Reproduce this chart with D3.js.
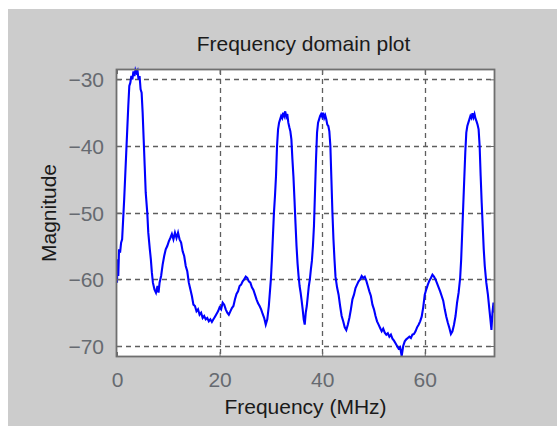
<!DOCTYPE html>
<html>
<head>
<meta charset="utf-8">
<script src="https://cdn.jsdelivr.net/npm/d3@7"></script>
<style>
  html, body { margin: 0; padding: 0; background: #ffffff; }
  svg { display: block; }
  text { font-family: "Liberation Sans", Arial, sans-serif; }
</style>
</head>
<body>
<script>
// ---- data ----
const freq = [0.0,0.1,0.25,0.4,0.6,0.8,1.0,1.2,1.4,1.6,1.8,2.0,2.2,2.4,2.6,2.8,3.0,3.2,3.4,3.6,3.8,4.0,4.2,4.4,4.6,4.8,5.0,5.2,5.4,5.6,5.9,6.1,6.4,6.6,6.8,7.0,7.3,7.6,7.9,8.1,8.3,8.6,8.9,9.2,9.5,9.8,10.1,10.4,10.7,11.0,11.3,11.6,11.9,12.2,12.5,12.8,13.1,13.4,13.7,14.0,14.3,14.6,14.9,15.2,15.5,15.8,16.1,16.4,16.7,17.0,17.3,17.6,17.9,18.2,18.5,18.8,19.1,19.4,19.7,20.0,20.3,20.6,20.9,21.2,21.5,21.8,22.1,22.4,22.7,23.0,23.3,23.6,23.9,24.2,24.5,24.8,25.1,25.4,25.7,26.0,26.3,26.6,26.9,27.2,27.5,27.8,28.1,28.4,28.7,29.0,29.3,29.6,29.8,30.0,30.2,30.4,30.6,30.8,31.0,31.2,31.4,31.6,31.8,32.0,32.2,32.4,32.6,32.8,33.0,33.2,33.4,33.6,33.8,34.0,34.2,34.4,34.6,34.8,35.0,35.2,35.4,35.6,35.8,36.0,36.2,36.4,36.6,36.8,37.0,37.2,37.4,37.6,37.8,38.0,38.2,38.4,38.6,38.8,39.0,39.2,39.4,39.6,39.8,40.0,40.2,40.4,40.6,40.8,41.0,41.2,41.4,41.6,41.8,42.0,42.2,42.4,42.6,42.9,43.2,43.5,43.8,44.1,44.4,44.7,45.0,45.3,45.6,45.9,46.2,46.5,46.8,47.1,47.4,47.7,48.0,48.3,48.6,48.9,49.2,49.5,49.8,50.1,50.4,50.7,51.0,51.3,51.6,51.9,52.2,52.5,52.8,53.1,53.4,53.7,54.0,54.3,54.6,54.9,55.2,55.5,55.8,56.1,56.4,56.7,57.0,57.3,57.6,57.9,58.2,58.5,58.8,59.1,59.4,59.7,60.0,60.3,60.6,60.9,61.2,61.5,61.8,62.1,62.4,62.7,63.0,63.3,63.6,63.9,64.2,64.5,64.8,65.1,65.4,65.7,66.0,66.3,66.6,66.9,67.1,67.3,67.5,67.7,67.9,68.1,68.3,68.5,68.7,68.9,69.1,69.3,69.5,69.7,69.9,70.1,70.3,70.5,70.7,70.9,71.1,71.3,71.5,71.7,72.0,72.3,72.6,72.8,73.0,73.2,73.4,73.5];
const magnitude = [-60.5,-57,-59.5,-55.5,-56,-54.5,-54,-51,-48,-44.5,-41,-37.5,-34,-31,-30.5,-29.5,-30,-28.8,-29.5,-28.6,-29,-28.7,-30,-29.5,-31.5,-32,-35,-39,-43,-47,-50,-53,-55.5,-57,-59,-60.5,-61.5,-62,-61,-62,-60.5,-59.5,-57.8,-56.5,-55.5,-55,-54.3,-53.8,-53.2,-54,-53,-53.8,-53,-54,-54.5,-55.8,-56.5,-58,-58.8,-60.5,-61.5,-62.5,-63.8,-64,-64.8,-64.5,-65.3,-65,-65.8,-65.5,-66,-65.8,-66.3,-66,-66.4,-66,-65.6,-65.2,-64.8,-64.2,-64.5,-63.5,-63.8,-64.5,-65,-65.3,-64.8,-64.3,-64,-63,-62.2,-61.8,-61,-60.8,-60.3,-60,-59.6,-59.8,-60.3,-60.5,-61.2,-61.6,-62.3,-63,-63.6,-64,-64.5,-65.2,-65.8,-66.8,-66,-64,-62,-60,-57,-53.5,-50,-47.5,-44.5,-40,-37.5,-36.5,-36,-35.5,-35.8,-35,-35.5,-34.8,-35.6,-35.2,-36.5,-37.2,-37.8,-39,-42,-44.6,-48,-51.6,-55,-57.6,-59.5,-61,-62,-63.2,-64.5,-66,-66.8,-65,-64,-62.5,-61,-60,-58.5,-57.2,-55,-52,-47,-42,-38,-36.5,-36,-35.5,-35.2,-35.6,-35,-35.8,-35.4,-36,-36.8,-37,-37.8,-40,-45,-50,-54,-57,-59.6,-61.2,-62.3,-64,-65.5,-66.3,-67.2,-67.6,-66.8,-65.8,-64.5,-63,-62.3,-61.3,-60.8,-60.3,-60,-59.5,-59.8,-59.6,-60.2,-61,-61.8,-62.5,-63.8,-64.5,-65.5,-66.3,-66.8,-67.3,-67.8,-67.4,-68,-68.3,-68.1,-68.6,-68.3,-68.9,-69.2,-69.6,-70,-70.4,-70.2,-71.5,-70,-69.3,-69,-68.8,-68.6,-68.8,-68.3,-68.2,-67.8,-67.2,-66.8,-66.3,-65.6,-64.2,-62.3,-61.5,-60.8,-60.2,-59.8,-59.3,-59.6,-60,-60.6,-61.2,-61.8,-62.5,-63.2,-64.5,-65.6,-66.5,-67.3,-68.2,-67.8,-66.8,-65.5,-63.5,-62,-59.8,-57,-53,-49,-45,-41,-38,-37,-36.5,-36,-35.5,-35.8,-35.1,-35.7,-35.2,-35.9,-36.3,-36.8,-37.5,-40,-44.5,-48.5,-52,-55.5,-58,-60.5,-62.2,-64.5,-66,-67.6,-65,-63.5,-65];
const xTicks = [0, 20, 40, 60];
const yTicks = [-70, -60, -50, -40, -30];
const titleText = "Frequency domain plot";
const xLabelText = "Frequency (MHz)";
const yLabelText = "Magnitude";

// ---- layout ----
const W = 557, H = 426;
const m = { left: 117, top: 70, right: 63, bottom: 70 };
const pw = W - m.left - m.right;   // 377
const ph = H - m.top - m.bottom;   // 286

const svg = d3.select("body").append("svg")
  .attr("width", W).attr("height", H);

// figure background with thin white border at left/top
svg.append("rect").attr("x", 0).attr("y", 0).attr("width", W).attr("height", H).attr("fill", "#ffffff");
svg.append("rect").attr("x", 8).attr("y", 9).attr("width", W - 8).attr("height", H - 9).attr("fill", "#cccccc");

const x = d3.scaleLinear().domain([0, 73.5]).range([m.left, m.left + pw]);
const y = d3.scaleLinear().domain([-71.5, -28.6]).range([m.top + ph, m.top]);

// plot area
svg.append("rect").attr("x", m.left).attr("y", m.top).attr("width", pw).attr("height", ph).attr("fill", "#ffffff");

// grid
const grid = svg.append("g").attr("stroke", "#5e5e5e").attr("stroke-width", 1.3).attr("stroke-dasharray", "5,4");
grid.selectAll("line.gx").data(xTicks.filter(d => d > 0)).join("line")
  .attr("x1", d => Math.round(x(d)) + 0.5).attr("x2", d => Math.round(x(d)) + 0.5)
  .attr("y1", m.top).attr("y2", m.top + ph);
grid.selectAll("line.gy").data(yTicks).join("line")
  .attr("y1", d => Math.round(y(d)) + 0.5).attr("y2", d => Math.round(y(d)) + 0.5)
  .attr("x1", m.left).attr("x2", m.left + pw);

// data line
const line = d3.line().x((d, i) => x(freq[i])).y(d => y(d));
svg.append("path").datum(magnitude)
  .attr("d", line)
  .attr("fill", "none").attr("stroke", "#0000ff").attr("stroke-width", 2.1)
  .attr("stroke-linejoin", "miter");

// axes (inward ticks, no domain; box drawn separately)
const tickColor = "#6a6a6a";
const xAxis = d3.axisBottom(x).tickValues(xTicks).tickSize(-4).tickPadding(16).tickFormat(d3.format("d"));
const yAxis = d3.axisLeft(y).tickValues(yTicks).tickSize(-4).tickPadding(13).tickFormat(d3.format("d"));
const gx = svg.append("g").attr("transform", `translate(0,${m.top + ph})`).call(xAxis);
const gy = svg.append("g").attr("transform", `translate(${m.left},0)`).call(yAxis);
[gx, gy].forEach(g => {
  g.select(".domain").remove();
  g.selectAll(".tick line").attr("stroke", tickColor);
  g.selectAll(".tick text").attr("fill", "#666a70").attr("font-size", 21)
    .attr("font-family", "'Liberation Sans', Arial, sans-serif");
});
gy.selectAll(".tick text").attr("dy", "0.35em");
// top and right ticks
svg.append("g").call(d3.axisTop(x).tickValues(xTicks).tickSize(-4).tickFormat(""))
  .attr("transform", `translate(0,${m.top})`)
  .call(g => { g.select(".domain").remove(); g.selectAll(".tick line").attr("stroke", tickColor); });
svg.append("g").call(d3.axisRight(y).tickValues(yTicks).tickSize(-4).tickFormat(""))
  .attr("transform", `translate(${m.left + pw},0)`)
  .call(g => { g.select(".domain").remove(); g.selectAll(".tick line").attr("stroke", tickColor); });

// box
svg.append("rect").attr("x", m.left - 0.5).attr("y", m.top - 0.5).attr("width", pw + 1).attr("height", ph + 1)
  .attr("fill", "none").attr("stroke", "#6f6f6f").attr("stroke-width", 1.8);

// labels
svg.append("text").attr("x", m.left + pw / 2 - 2).attr("y", 51).attr("text-anchor", "middle")
  .attr("font-size", 21).attr("fill", "#1a1a1a").text(titleText);
svg.append("text").attr("x", m.left + pw / 2).attr("y", 414).attr("text-anchor", "middle")
  .attr("font-size", 21).attr("fill", "#1a1a1a").text(xLabelText);
svg.append("text").attr("transform", `translate(56,${m.top + ph / 2}) rotate(-90)`).attr("text-anchor", "middle")
  .attr("font-size", 21).attr("fill", "#1a1a1a").text(yLabelText);
</script>
</body>
</html>
